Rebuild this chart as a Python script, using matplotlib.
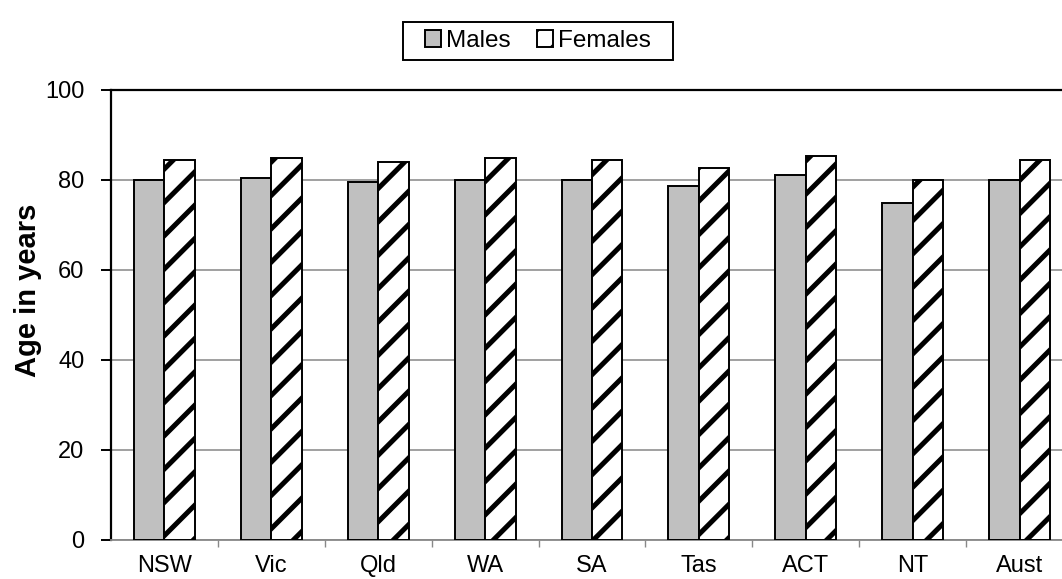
import matplotlib
matplotlib.use("Agg")
import matplotlib.pyplot as plt
from matplotlib.patches import Rectangle
import numpy as np

plt.rcParams['font.family'] = ['Liberation Sans', 'DejaVu Sans']
plt.rcParams['hatch.linewidth'] = 3.6

states = ["NSW", "Vic", "Qld", "WA", "SA", "Tas", "ACT", "NT", "Aust"]
males = [80.1, 80.5, 79.6, 80.1, 80.1, 78.7, 81.2, 74.9, 80.1]
females = [84.4, 85.0, 84.1, 85.0, 84.4, 82.7, 85.3, 80.0, 84.4]
y_ticks = [0, 20, 40, 60, 80, 100]

W, H = 1062, 579
fig = plt.figure(figsize=(W / 100, H / 100), dpi=100)
ax = fig.add_axes([111 / W, 1 - 540 / H, (1073 - 111) / W, (540 - 90) / H])

x = np.arange(len(states))
bw = 0.285
ax.bar(x - bw / 2, males, bw, color="#C0C0C0", edgecolor="black",
       linewidth=1.4, label="Males", zorder=3)
ax.bar(x + bw / 2, females, bw, color="white", edgecolor="black",
       hatch="/", linewidth=1.4, label="Females", zorder=3)

ax.set_xlim(-0.5, len(states) - 0.5)
ax.set_ylim(0, 100)
ax.set_yticks(y_ticks)
ax.set_xticks(x)
ax.set_xticklabels(states)
ax.set_xticks(np.arange(0.5, len(states) - 0.5, 1.0), minor=True)
ax.tick_params(axis="x", which="major", length=0, pad=11, labelsize=17)
ax.tick_params(axis="x", which="minor", length=5, color="#888888", width=1)
ax.tick_params(axis="y", length=7, width=1.4, labelsize=17, pad=12)

ax.yaxis.grid(True, color="#999999", linewidth=1.3, zorder=0)
ax.set_axisbelow(True)
for s in ("left", "top"):
    ax.spines[s].set_color("black")
    ax.spines[s].set_linewidth(1.6)
ax.spines["bottom"].set_color("#888888")
ax.spines["bottom"].set_linewidth(1.3)
ax.spines["right"].set_visible(False)

ax.set_ylabel("Age in years", fontsize=21, fontweight="bold")
ax.yaxis.set_label_coords(-0.072, 0.555)

# legend entries without a frame; the frame is drawn around them with
# extra horizontal room
leg = fig.legend(loc="center", bbox_to_anchor=(538 / W, 1 - 41 / H), ncol=2,
                 frameon=False, fontsize=17.5, handlelength=0.65,
                 handleheight=0.65, handletextpad=0.2, columnspacing=1.1,
                 borderpad=0.0)
fig.canvas.draw()
bb = leg.get_window_extent()
pad_x, half_h = 22, 19
cy = (bb.y0 + bb.y1) / 2
frame = Rectangle(((bb.x0 - pad_x) / W, (cy - half_h) / H),
                  (bb.width + 2 * pad_x) / W, 2 * half_h / H,
                  transform=fig.transFigure, fill=False,
                  edgecolor="black", linewidth=1.4)
fig.add_artist(frame)

fig.savefig("out.png", dpi=100)
